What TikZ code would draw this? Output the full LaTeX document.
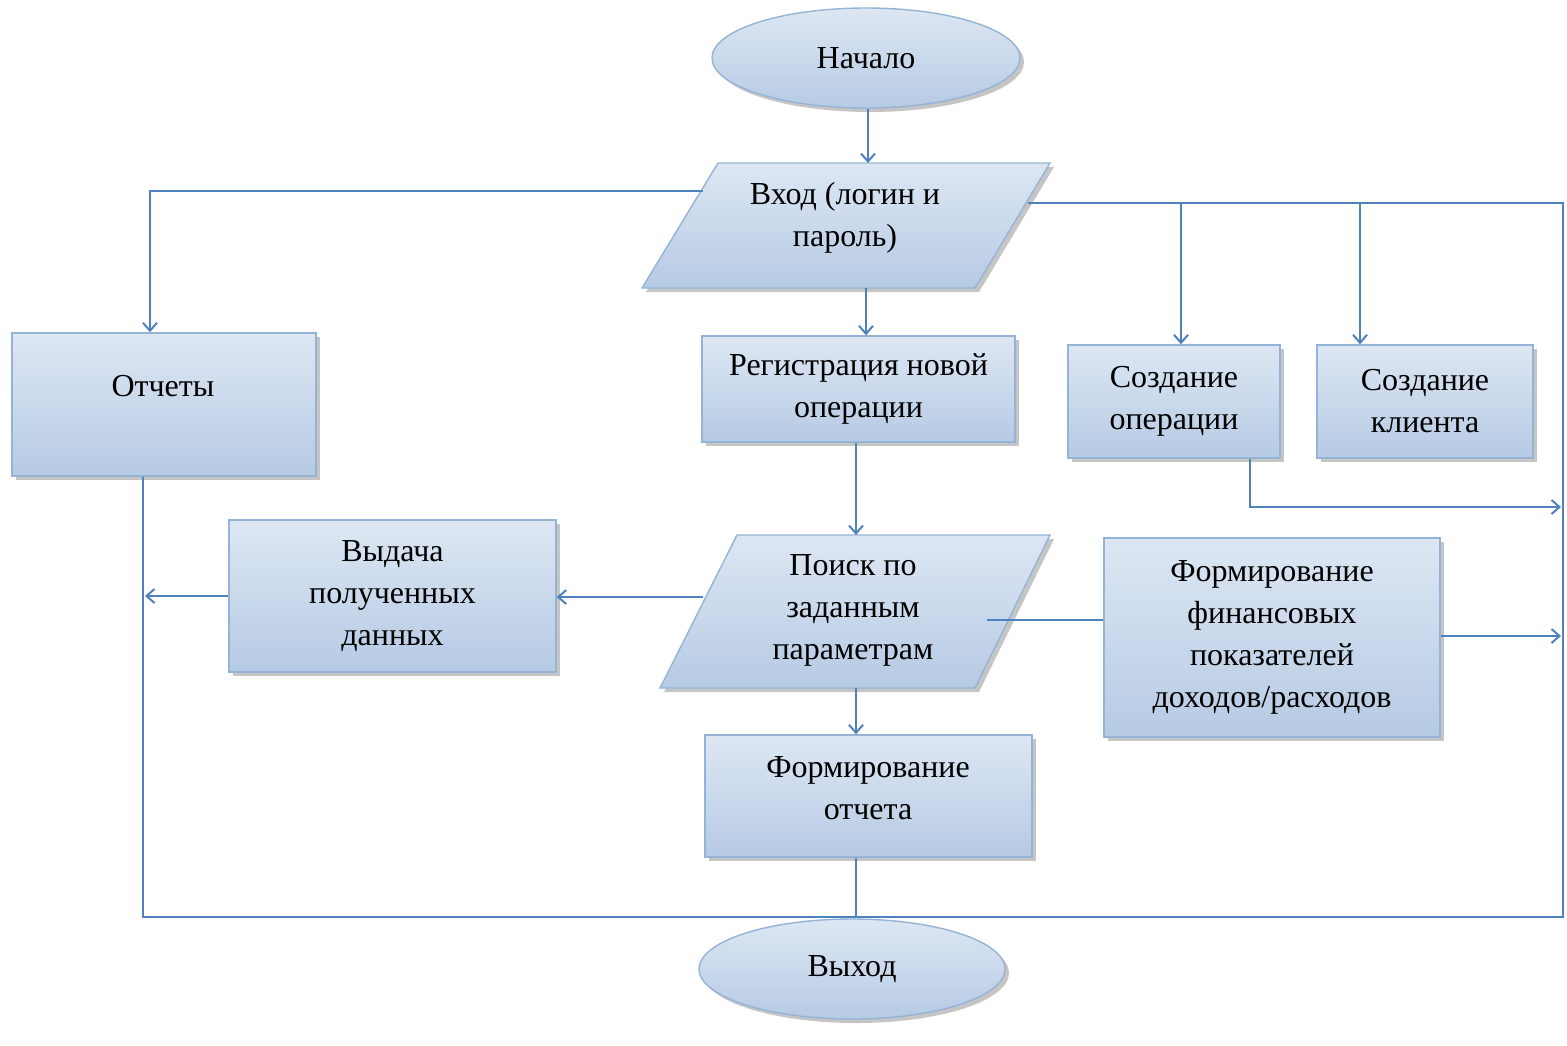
\documentclass[tikz,border=0pt]{standalone}
\usepackage{fontspec}
\setmainfont{Liberation Serif}
\usetikzlibrary{shapes.geometric,shadows,arrows.meta,calc}
\definecolor{lnc}{HTML}{4F81BD}
\definecolor{edgec}{HTML}{95B3D7}
\definecolor{topc}{HTML}{DDE7F3}
\definecolor{midc}{HTML}{F8FAFD}
\definecolor{botc}{HTML}{B6CAE4}
\tikzset{
  shadowed/.style={drop shadow={shadow xshift=2pt,shadow yshift=-2pt,fill=black!45,opacity=0.5}},
  filled/.style={draw=edgec,line width=0.7pt,top color=topc,middle color=midc,bottom color=botc,shadowed},
  stepbox/.style={filled,rectangle,align=center,inner sep=0pt},
  term/.style={filled,ellipse,inner sep=0pt},
  txt/.style={align=center,inner sep=0pt},
  ln/.style={draw=lnc,line width=1pt},
  arr/.style={ln,-{Straight Barb[length=4pt,width=7pt]}},
}
\begin{document}
\begin{tikzpicture}[x=0.5pt,y=-0.5pt,font=\fontsize{16}{21}\selectfont]
\path[use as bounding box,fill=white] (0,0) rectangle (1567,1045);

% terminals
\node[term,minimum width=154pt,minimum height=50pt] (start) at (866,58) {Начало};
\node[term,minimum width=153pt,minimum height=50pt] (exit) at (852,969) {Выход};

% parallelograms
\path[filled] (718,163) -- (1050,163) -- (975,288) -- (642,288) -- cycle;
\node[txt] (vhod) at (845,218) {Вход (логин и\\пароль)};
\coordinate (vhodT) at (868,163);
\coordinate (vhodB) at (866,288);
\coordinate (vhodL) at (703,191);
\coordinate (vhodR) at (1028,203);

\path[filled] (737,535) -- (1050,535) -- (975,688) -- (660,688) -- cycle;
\node[txt] (poisk) at (853,610) {Поиск по\\заданным\\параметрам};
\coordinate (poiskT) at (856,535);
\coordinate (poiskB) at (856,688);
\coordinate (poiskL) at (703,597);
\coordinate (poiskR) at (987,620);

% boxes
\node[stepbox,minimum width=152pt,minimum height=71.5pt] (otch) at (164,404.5) {};
\node[txt] (otchT) at (163,386) {Отчеты};
\node[stepbox,minimum width=156.5pt,minimum height=53pt] (reg) at (858.5,389) {Регистрация новой\\операции};
\node[stepbox,minimum width=106pt,minimum height=56.5pt] (sozop) at (1174,401.5) {Создание\\операции};
\node[stepbox,minimum width=108pt,minimum height=56.5pt] (sozkl) at (1425,401.5) {Создание\\клиента};
\node[stepbox,minimum width=163.5pt,minimum height=76pt] (vyd) at (392.5,596) {Выдача\\полученных\\данных};
\node[stepbox,minimum width=168pt,minimum height=99.5pt] (ff) at (1272,637.5) {Формирование\\финансовых\\показателей\\доходов/расходов};
\node[stepbox,minimum width=163.5pt,minimum height=61pt] (fo) at (868.5,796) {};
\node[txt] (foT) at (868,788) {Формирование\\отчета};

% frame corners
\coordinate (frTR) at (1563,203);
\coordinate (frBR) at (1563,917);
\coordinate (frBL) at (143,917);
\coordinate (otchB) at ($(otch.south)+(-21,0)$);
\coordinate (otchN) at ($(otch.north)+(-14,0)$);
\coordinate (soT) at ($(sozop.north)+(7,0)$);
\coordinate (skT) at ($(sozkl.north)+(-65,0)$);
\coordinate (soB) at ($(sozop.south)+(76,0)$);
\coordinate (foB) at ($(fo.south)+(-13,0)$);

% connectors
\draw[arr] (vhodT |- start.south) -- (vhodT);
\draw[arr] (vhodL) -| (otchN);
\draw[ln] (vhodR) -- (frTR) -- (frBR) -- (frBL) -- (otchB);
\draw[arr] (soT |- frTR) -- (soT);
\draw[arr] (skT |- frTR) -- (skT);
\draw[arr] (soB) |- ($(frTR)+(-2,304)$);
\draw[arr] (vhodB) -- (vhodB |- reg.north);
\draw[arr] (reg.south -| poiskT) -- (poiskT);
\draw[arr] (poiskL) -- (poiskL -| vyd.east);
\draw[arr] (vyd.west) -- ($(frBL |- vyd.west)+(2,0)$);
\draw[ln] (poiskR) -- (poiskR -| ff.west);
\draw[arr] ($(ff.east)+(0,-1.5)$) -- ($(frBR |- ff.east)+(-2,-1.5)$);
\draw[arr] (poiskB) -- (poiskB |- fo.north);
\draw[ln] (foB) -- (foB |- frBL);
\end{tikzpicture}
\end{document}
